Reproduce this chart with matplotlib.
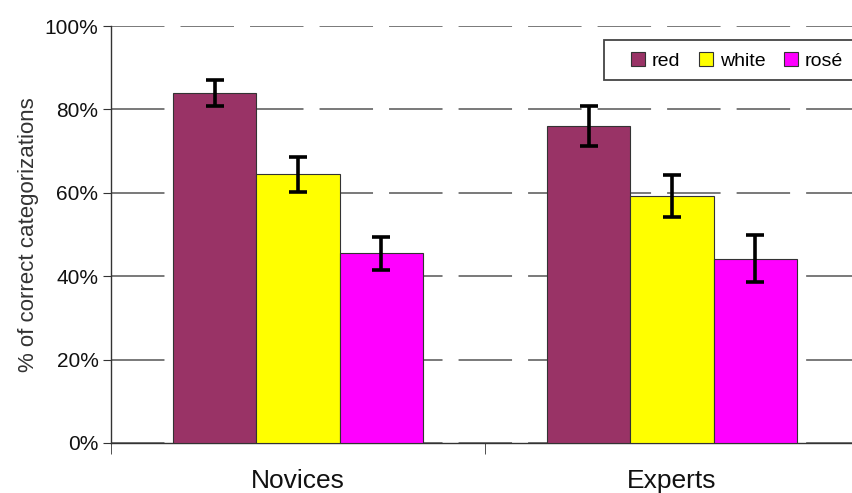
import matplotlib.pyplot as plt
from matplotlib.patches import Rectangle
import numpy as np

# data
groups = ['Novices', 'Experts']
wine_types = ['red', 'white', 'rosé']
colors = ['#993366', '#FFFF00', '#FF00FF']
means = {
    'red': [84.0, 76.0],
    'white': [64.5, 59.3],
    'rosé': [45.5, 44.2],
}
errors = {
    'red': [3.1, 4.7],
    'white': [4.2, 5.0],
    'rosé': [4.0, 5.6],
}

plt.rcParams['font.family'] = ['Liberation Sans', 'DejaVu Sans']

W, H = 853, 493
fig = plt.figure(figsize=(W / 100, H / 100), dpi=100)
ax = fig.add_axes([111 / W, 1 - 443 / H, 748 / W, 417 / H])

x = np.arange(len(groups))
width = 0.223
for i, w in enumerate(wine_types):
    pos = x + (i - 1) * width
    ax.bar(pos, means[w], width, color=colors[i], edgecolor='#333333',
           linewidth=0.8, label=w, zorder=3)
    ax.errorbar(pos, means[w], yerr=errors[w], fmt='none', ecolor='black',
                elinewidth=2.6, capsize=6.5, capthick=2.6, zorder=4)

ax.set_xlim(-0.5, 1.5)
ax.set_ylim(0, 100)
ax.set_yticks(np.arange(0, 101, 20))
ax.set_yticklabels([f'{v}%' for v in range(0, 101, 20)], fontsize=15, color='#111111')
ax.yaxis.grid(True, color='#555555', linewidth=1.1, dashes=(35, 10.5), zorder=0)
ax.set_axisbelow(True)

ax.set_xticks(x)
ax.set_xticklabels(groups, fontsize=19, color='#111111')
ax.tick_params(axis='x', which='major', length=0, pad=19)
ax.set_xticks([-0.5, 0.5, 1.5], minor=True)
ax.tick_params(axis='x', which='minor', length=8, color='#333333', direction='out')
ax.tick_params(axis='y', length=6, color='#333333', direction='out', pad=3)

for s in ['top', 'right']:
    ax.spines[s].set_visible(False)
for s in ['left', 'bottom']:
    ax.spines[s].set_color('#333333')
    ax.spines[s].set_linewidth(1.0)

ax.set_ylabel('% of correct categorizations', fontsize=16, color='#333333', labelpad=4)

# legend box, runs off the right edge like the original
fig.patches.append(Rectangle((604 / W, 1 - 80 / H), 260 / W, 40 / H,
                             transform=fig.transFigure, facecolor='white',
                             edgecolor='#444444', linewidth=1.3, zorder=5))
leg = fig.legend(loc='center left', bbox_to_anchor=(631 / W, 1 - 61 / H), ncol=3,
                 fontsize=14, frameon=False,
                 handlelength=0.72, handleheight=0.72, handletextpad=0.35,
                 columnspacing=0.95, borderpad=0.0, borderaxespad=0.0)
leg.set_zorder(6)

fig.savefig('out.png', dpi=100)
